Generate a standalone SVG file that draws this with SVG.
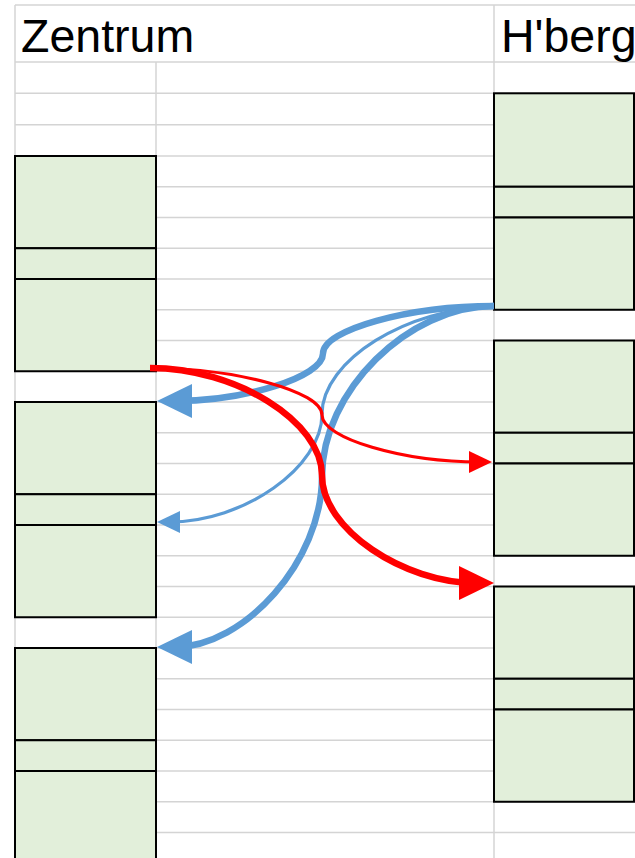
<svg xmlns="http://www.w3.org/2000/svg" width="635" height="858" viewBox="0 0 635 858">
  <style>
    .grid { stroke: #d4d4d4; stroke-width: 1.5; fill: none; }
    .cell { fill: #e2efda; stroke: #000000; stroke-width: 2; }
    .title { font-family: "Liberation Sans", Arial, sans-serif; font-size: 46.5px; fill: #000000; }
    .link { fill: none; stroke-linecap: butt; }
    .blue { stroke: #5b9bd5; }
    .red { stroke: #ff0000; }
    .thick { stroke-width: 6.5; }
    .thin { stroke-width: 3.2; }
  </style>
  <defs>
    <!-- large heads: 35 long, 34 wide; the path stops 18px short of the tip -->
    <marker id="head-blue-lg" viewBox="0 0 35 34" markerWidth="35" markerHeight="34" refX="17" refY="17" orient="auto" markerUnits="userSpaceOnUse" overflow="visible">
      <path d="M0,0 L35,17 L0,34 Z" fill="#5b9bd5"/>
    </marker>
    <marker id="head-red-lg" viewBox="0 0 35 34" markerWidth="35" markerHeight="34" refX="17" refY="17" orient="auto" markerUnits="userSpaceOnUse" overflow="visible">
      <path d="M0,0 L35,17 L0,34 Z" fill="#ff0000"/>
    </marker>
    <!-- small heads: 23 long, 22 wide; the path stops 12px short of the tip -->
    <marker id="head-blue-sm" viewBox="0 0 23 22" markerWidth="23" markerHeight="22" refX="11" refY="11" orient="auto" markerUnits="userSpaceOnUse" overflow="visible">
      <path d="M0,0 L23,11 L0,22 Z" fill="#5b9bd5"/>
    </marker>
    <marker id="head-red-sm" viewBox="0 0 23 22" markerWidth="23" markerHeight="22" refX="11" refY="11" orient="auto" markerUnits="userSpaceOnUse" overflow="visible">
      <path d="M0,0 L23,11 L0,22 Z" fill="#ff0000"/>
    </marker>
  </defs>

  <rect width="635" height="858" fill="#ffffff"/>

  <!-- sheet grid -->
  <g id="grid" class="grid">
    <line x1="15" y1="5" x2="635" y2="5"/>
    <line x1="15" y1="62" x2="635" y2="62"/>
    <line x1="15" y1="93.3" x2="635" y2="93.3"/>
    <line x1="15" y1="124.7" x2="635" y2="124.7"/>
    <line x1="15" y1="156" x2="635" y2="156"/>
    <line x1="15" y1="186.75" x2="635" y2="186.75"/>
    <line x1="15" y1="217.5" x2="635" y2="217.5"/>
    <line x1="15" y1="248.25" x2="635" y2="248.25"/>
    <line x1="15" y1="279" x2="635" y2="279"/>
    <line x1="15" y1="309.75" x2="635" y2="309.75"/>
    <line x1="15" y1="340.5" x2="635" y2="340.5"/>
    <line x1="15" y1="371.25" x2="635" y2="371.25"/>
    <line x1="15" y1="402" x2="635" y2="402"/>
    <line x1="15" y1="432.75" x2="635" y2="432.75"/>
    <line x1="15" y1="463.5" x2="635" y2="463.5"/>
    <line x1="15" y1="494.25" x2="635" y2="494.25"/>
    <line x1="15" y1="525" x2="635" y2="525"/>
    <line x1="15" y1="555.75" x2="635" y2="555.75"/>
    <line x1="15" y1="586.5" x2="635" y2="586.5"/>
    <line x1="15" y1="617.25" x2="635" y2="617.25"/>
    <line x1="15" y1="648" x2="635" y2="648"/>
    <line x1="15" y1="678.75" x2="635" y2="678.75"/>
    <line x1="15" y1="709.5" x2="635" y2="709.5"/>
    <line x1="15" y1="740.25" x2="635" y2="740.25"/>
    <line x1="15" y1="771" x2="635" y2="771"/>
    <line x1="15" y1="801.75" x2="635" y2="801.75"/>
    <line x1="15" y1="832.5" x2="635" y2="832.5"/>
    <line x1="15" y1="5" x2="15" y2="858"/>
    <line x1="156" y1="62" x2="156" y2="858"/>
    <line x1="494" y1="5" x2="494" y2="858"/>
  </g>

  <!-- column headings -->
  <text class="title" x="21" y="52">Zentrum</text>
  <text class="title" x="501" y="52">H'berg</text>

  <!-- Zentrum blocks -->
  <g id="z1a"><rect class="cell" x="15" y="156" width="141" height="92.25"/></g>
  <g id="z1b"><rect class="cell" x="15" y="248.25" width="141" height="30.75"/></g>
  <g id="z1c"><rect class="cell" x="15" y="279" width="141" height="92.25"/></g>
  <g id="z2a"><rect class="cell" x="15" y="402" width="141" height="92.25"/></g>
  <g id="z2b"><rect class="cell" x="15" y="494.25" width="141" height="30.75"/></g>
  <g id="z2c"><rect class="cell" x="15" y="525" width="141" height="92.25"/></g>
  <g id="z3a"><rect class="cell" x="15" y="648" width="141" height="92.25"/></g>
  <g id="z3b"><rect class="cell" x="15" y="740.25" width="141" height="30.75"/></g>
  <g id="z3c"><rect class="cell" x="15" y="771" width="141" height="95"/></g>

  <!-- H'berg blocks -->
  <g id="h1a"><rect class="cell" x="494" y="93.3" width="140" height="93.45"/></g>
  <g id="h1b"><rect class="cell" x="494" y="186.75" width="140" height="30.75"/></g>
  <g id="h1c"><rect class="cell" x="494" y="217.5" width="140" height="92.25"/></g>
  <g id="h2a"><rect class="cell" x="494" y="340.5" width="140" height="92.25"/></g>
  <g id="h2b"><rect class="cell" x="494" y="432.75" width="140" height="30.75"/></g>
  <g id="h2c"><rect class="cell" x="494" y="463.5" width="140" height="92.25"/></g>
  <g id="h3a"><rect class="cell" x="494" y="586.5" width="140" height="92.25"/></g>
  <g id="h3b"><rect class="cell" x="494" y="678.75" width="140" height="30.75"/></g>
  <g id="h3c"><rect class="cell" x="494" y="709.5" width="140" height="92.25"/></g>

  <!-- curved connectors -->
  <g id="connectors">
    <path class="link blue thick" d="M494,306 C408.5,306 323,329.75 323,353.5 C323,377.25 244,401 175,401" marker-end="url(#head-blue-lg)"/>
    <path class="link blue thin" d="M494,307 C408,307 322,360.5 322,414 C322,467.5 244,522 169,522" marker-end="url(#head-blue-sm)"/>
    <path class="link blue thick" d="M494,306 C408,306 322,391.5 322,476.5 C322,561.5 244,647 175,647" marker-end="url(#head-blue-lg)"/>
    <path class="link red thin" d="M150,368 C236,368 322,391.5 322,415 C322,438.5 403,462 480,462" marker-end="url(#head-red-sm)"/>
    <path class="link red thick" d="M150,368 C236,368 322,421.5 322,475.5 C322,529.5 404,583 476,583" marker-end="url(#head-red-lg)"/>
  </g>
</svg>
